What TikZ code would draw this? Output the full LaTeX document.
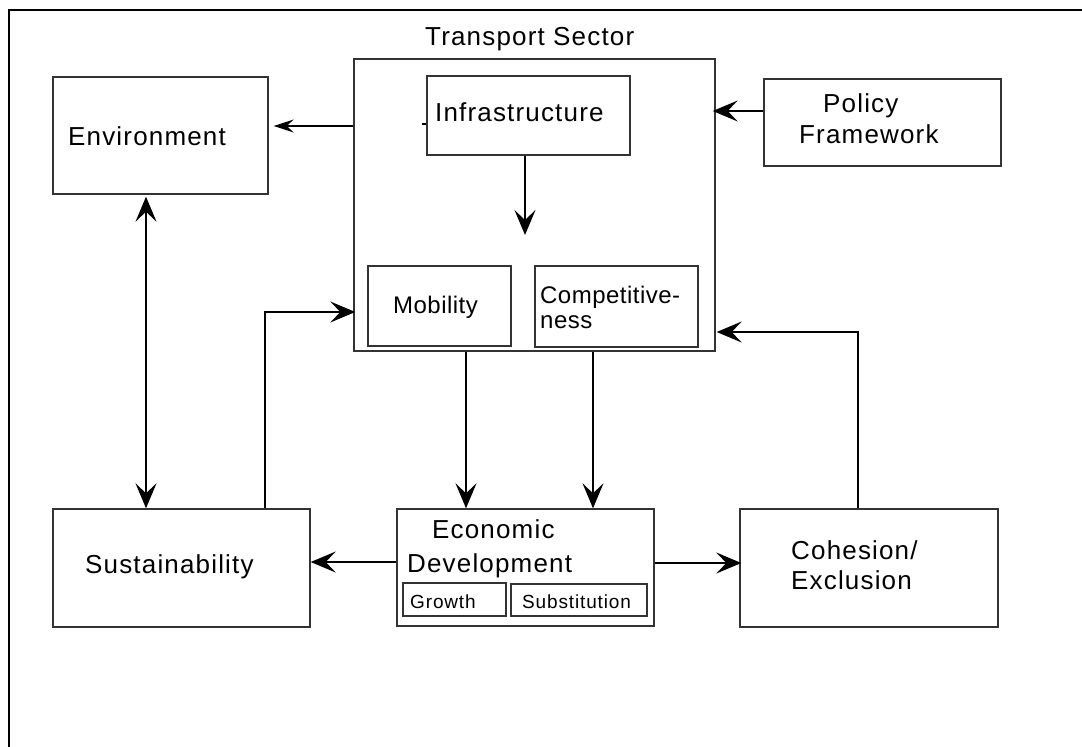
\documentclass[tikz,border=0pt]{standalone}
\usepackage{fontspec}
\setmainfont{Liberation Sans}[LetterSpace=4.5]
\newfontfamily\innerfont{Liberation Sans}[LetterSpace=2]
\usetikzlibrary{arrows.meta}
\begin{document}
\begin{tikzpicture}[x=1pt,y=-1pt,
  box/.style={draw=black!80, line width=1.4pt, inner sep=0pt},
  txt/.style={inner sep=0pt, anchor=base west, font=\fontsize{26}{30}\selectfont},
  itxt/.style={inner sep=0pt, anchor=base west, font=\innerfont\fontsize{24}{28}\selectfont},
  stxt/.style={inner sep=0pt, anchor=base west, font=\fontsize{19}{22}\selectfont},
  arr/.style={-{Stealth[length=25pt,width=21pt,inset=10pt]}, line width=1.3pt},
  arrs/.style={-{Stealth[length=20pt,width=13pt,inset=7pt]}, line width=1.3pt},
  arrtwo/.style={{Stealth[length=25pt,width=21pt,inset=10pt]}-{Stealth[length=25pt,width=21pt,inset=10pt]}, line width=1.3pt},
  frame/.style={line width=2.6pt, line join=miter}]
\useasboundingbox (0,0) rectangle (1082,747);
% outer frame (top and left edges)
\draw[frame] (9,750) -- (9,10) -- (1085,10);

% boxes
\node[box, minimum width=215pt, minimum height=117pt] (env) at (160.5,135.5) {};
\node[box, minimum width=361pt, minimum height=292pt] (ts) at (534.5,205) {};
\node[box, minimum width=203pt, minimum height=79pt] (infra) at (528.5,115.5) {};
\node[box, minimum width=143pt, minimum height=80pt] (mob) at (439.5,306) {};
\node[box, minimum width=163pt, minimum height=81pt] (comp) at (616.5,306.5) {};
\node[box, minimum width=237pt, minimum height=87pt] (pol) at (882.5,122.5) {};
\node[box, minimum width=257pt, minimum height=118pt] (sust) at (181.5,568) {};
\node[box, minimum width=257pt, minimum height=117pt] (econ) at (525.5,567.5) {};
\node[box, minimum width=103pt, minimum height=33pt] (growth) at (454.5,599.5) {};
\node[box, minimum width=136pt, minimum height=32pt] (subst) at (579,600) {};
\node[box, minimum width=258pt, minimum height=118pt] (coh) at (869,568) {};

% texts
\node[txt] (tTS) at (425,45) {Transport Sector};
\node[txt] (tEnv) at (68,145) {Environment};
\node[txt] (tInf) at (435,121) {Infrastructure};
\node[itxt] (tMob) at (393,313) {Mobility};
\node[itxt] (tComp1) at (540,303) {Competitive-};
\node[itxt] (tComp2) at (540,328) {ness};
\node[txt] (tPol1) at (823,112) {Policy};
\node[txt] (tPol2) at (799,143) {Framework};
\node[txt] (tSust) at (85,573) {Sustainability};
\node[txt] (tEco1) at (432,538) {Economic};
\node[txt] (tEco2) at (407,572) {Development};
\node[stxt] (tGro) at (410,608) {Growth};
\node[stxt] (tSub) at (522,608) {Substitution};
\node[txt] (tCoh1) at (791,559) {Cohesion/};
\node[txt] (tCoh2) at (791,589) {Exclusion};

% helper coordinates
\coordinate (yE) at (0,126);
\coordinate (yP) at (0,111);
\coordinate (yTick) at (0,124);
\coordinate (iT) at (525,235);
\coordinate (xS) at (146,0);
\coordinate (xM) at (265,0);
\coordinate (yM) at (0,312);
\coordinate (yL) at (0,562);
\coordinate (yR) at (0,563);
\coordinate (xC) at (858,0);
\coordinate (yC) at (0,332);
\coordinate (xD1) at (466,0);
\coordinate (xD2) at (593,0);

% connectors
\draw[arrs] (ts.west |- yE) -- ([xshift=5pt]env.east |- yE);
\draw[arr] (pol.west |- yP) -- ([xshift=-3pt]ts.east |- yP);
\draw[line width=1.1pt] (infra.west |- yTick) -- ([xshift=-4pt]infra.west |- yTick);
\draw[arr] (infra.south -| iT) -- (iT);
\draw[arrtwo] ([yshift=-2pt]env.south -| xS) -- (sust.north -| xS);
\draw[arr] (sust.north -| xM) |- ([xshift=2pt]ts.west |- yM);
\draw[arr] (econ.west |- yL) -- (sust.east |- yL);
\draw[arr] (econ.east |- yR) -- ([xshift=2pt]coh.west |- yR);
\draw[arr] (coh.north -| xC) |- ([xshift=1pt]ts.east |- yC);
\draw[arr] (ts.south -| xD1) -- (econ.north -| xD1);
\draw[arr] (ts.south -| xD2) -- (econ.north -| xD2);
\end{tikzpicture}
\end{document}
